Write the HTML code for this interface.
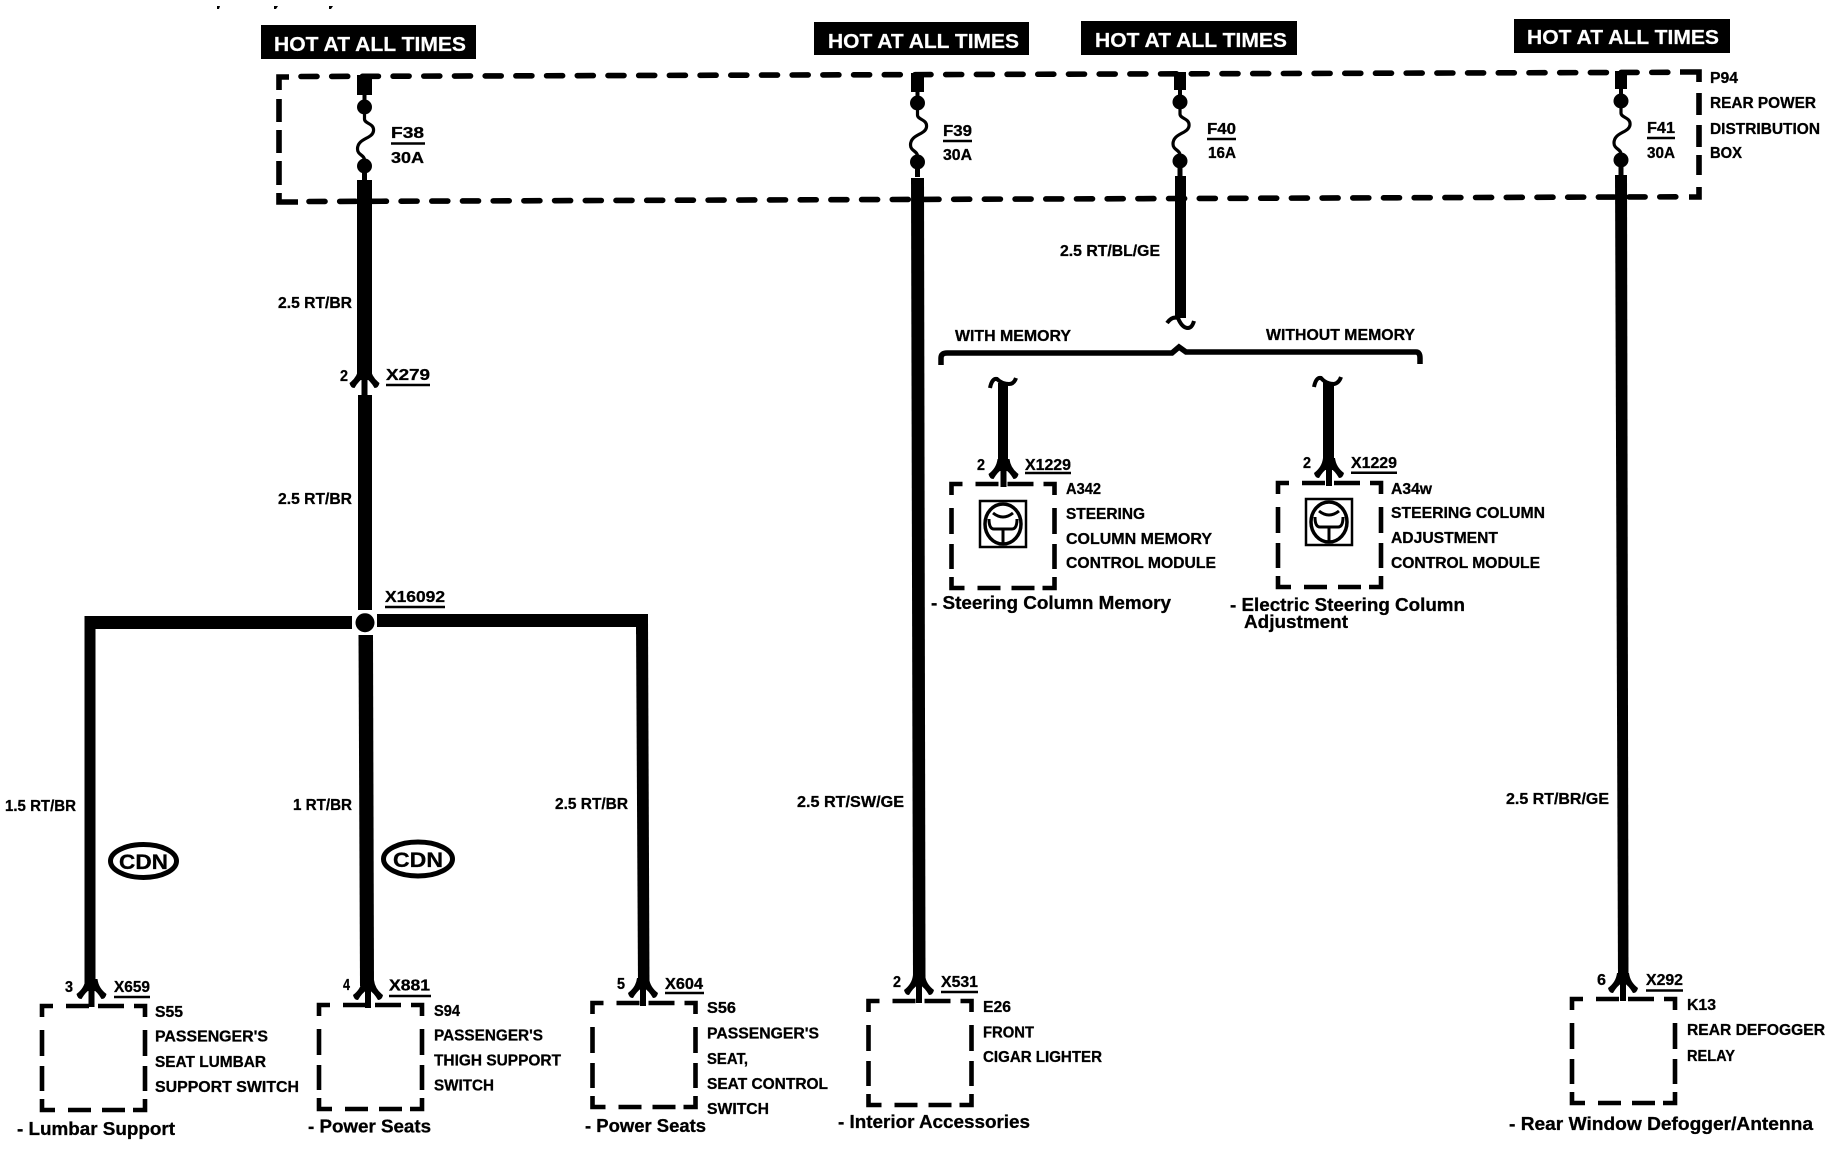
<!DOCTYPE html>
<html><head><meta charset="utf-8"><style>
html,body{margin:0;padding:0;background:#fff}
svg{display:block}
text{font-family:"Liberation Sans",sans-serif;font-weight:bold;fill:#000;font-size:16px;stroke:#000;stroke-width:.3px}
.h{fill:#fff;stroke:#fff;stroke-width:.2px;font-size:20px}
.d{font-size:18px}
</style></head><body>
<svg width="1830" height="1152" viewBox="0 0 1830 1152" xmlns="http://www.w3.org/2000/svg">
<defs>
<g id="fuse"><path d="M0,0V12C0,17 10,16 9,24C8,32 -7,31 -7,42C-7,48 0,48 0,53V59" fill="none" stroke="#000" stroke-width="3.2"/><circle cx="0" cy="0" r="7.5"/><circle cx="0" cy="59" r="7.5"/><rect x="-2" y="-14" width="4" height="10"/><rect x="-2.5" y="62" width="5" height="12"/></g>
<path id="box" fill="none" stroke="#000" stroke-width="4.6" d="M0,11V0H11M24,0H47M56,0H82M92,0H103V11M0,24V50M0,60V85M0,93V104H13M103,24V50M103,60V85M103,93V104H91M26,104H49M60,104H83"/>
<g id="con"><path d="M-6,-10Q-7,-1 -15,5Q-14,10 -10,10Q-6,3 0,-1Q6,3 10,10Q14,10 15,5Q7,-1 6,-10Z"/><rect x="-3" y="-2" width="6" height="20"/></g>
<g id="wheel" fill="none" stroke="#000"><rect x="0" y="0" width="46" height="46" stroke-width="2.5"/><ellipse cx="23" cy="23" rx="18" ry="20" stroke-width="3.5"/><path d="M9,18Q9,28 14,28H32Q37,28 37,18M23,28V43M13,12Q23,20 33,12" stroke-width="3"/></g>
</defs>

<!-- small marks -->
<path d="M217,6h3l-1,3h-2zM274,6h4l-2,3h-2zM329,6h4l-2,3h-2z"/>

<!-- header boxes -->
<rect x="261" y="25" width="215" height="34"/>
<rect x="814" y="22" width="215" height="33"/>
<rect x="1081" y="21" width="216" height="34"/>
<rect x="1514" y="19" width="216" height="34"/>
<text class="h" x="274" y="51" textLength="192" lengthAdjust="spacingAndGlyphs">HOT AT ALL TIMES</text>
<text class="h" x="828" y="48" textLength="191" lengthAdjust="spacingAndGlyphs">HOT AT ALL TIMES</text>
<text class="h" x="1095" y="47" textLength="192" lengthAdjust="spacingAndGlyphs">HOT AT ALL TIMES</text>
<text class="h" x="1527" y="44" textLength="192" lengthAdjust="spacingAndGlyphs">HOT AT ALL TIMES</text>

<!-- dashed distribution box -->
<g fill="none" stroke="#000" stroke-width="5.6">
<path d="M301,76.5L1680,72.3" stroke-linecap="round" stroke-dasharray="16 14.7"/>
<path d="M309,201.5L1680,196.8" stroke-linecap="round" stroke-dasharray="16 14.7"/>
<path d="M279,90V77H289M279,99V122M279,130V153M279,161V185M279,193V202H298"/>
<path d="M1680,72H1699V82M1699,93V115M1699,125V147M1699,155V175M1699,187V197H1689"/>
</g>

<!-- fuses -->
<rect x="357" y="75" width="15" height="20"/><use href="#fuse" x="364.5" y="107"/>
<rect x="911" y="73" width="13" height="19"/><use href="#fuse" x="917.5" y="103"/>
<rect x="1174" y="72" width="12" height="18"/><use href="#fuse" x="1180" y="102"/>
<rect x="1615" y="71" width="12" height="18"/><use href="#fuse" x="1621" y="101"/>

<!-- wires -->
<rect x="357" y="180" width="15" height="200"/>
<use href="#con" x="364.5" y="378"/>
<rect x="358" y="395" width="14" height="215"/>
<circle cx="365" cy="622.7" r="9.5"/>
<rect x="84.5" y="616" width="267.5" height="13"/>
<rect x="377" y="614" width="271" height="13"/>
<rect x="84.5" y="616" width="11" height="375"/>
<polygon points="358.5,635 373,635 374,986 360,986"/>
<rect x="636" y="614" width="12" height="20"/>
<polygon points="636,620 648,620 649.5,985 638,985"/>
<polygon points="911,178 924,178 925.5,982 913,982"/>
<polygon points="1175,176 1186,176 1186,318 1175,318"/>
<polygon points="1615,175 1627,175 1628.5,980 1618,980"/>

<use href="#con" x="91.5" y="989"/>
<use href="#con" x="368" y="990"/>
<use href="#con" x="643" y="988"/>
<use href="#con" x="919" y="985"/>
<use href="#con" x="1623" y="983"/>

<!-- branch -->
<path d="M1167,323Q1172,316 1178,318Q1182,328 1188,328Q1192,328 1194,321" fill="none" stroke="#000" stroke-width="4"/>
<path d="M941,365V358Q941,353 947,353H1172L1179,347L1186,352H1416Q1420,352 1420,358V364" fill="none" stroke="#000" stroke-width="5.5"/>

<rect x="998" y="383" width="10" height="88"/>
<path d="M990,388Q992,378 997,379Q1002,384 1009,384Q1014,384 1016,378" fill="none" stroke="#000" stroke-width="4"/>
<use href="#con" x="1003.5" y="469"/>
<rect x="1323" y="382" width="11" height="88"/>
<path d="M1314,387Q1316,377 1321,378Q1326,384 1334,384Q1339,383 1341,377" fill="none" stroke="#000" stroke-width="4"/>
<use href="#con" x="1329" y="468"/>

<!-- component boxes -->
<use href="#box" x="42" y="1006"/>
<use href="#box" x="319" y="1005"/>
<use href="#box" x="592.5" y="1003"/>
<use href="#box" x="868.5" y="1001"/>
<use href="#box" x="1572" y="999"/>
<use href="#box" x="951.5" y="484"/>
<use href="#box" x="1278" y="483"/>
<use href="#wheel" x="980" y="501"/>
<use href="#wheel" x="1306" y="499"/>

<!-- CDN -->
<ellipse cx="143.5" cy="861" rx="33" ry="16.5" fill="none" stroke="#000" stroke-width="5"/>
<ellipse cx="418" cy="859" rx="34.5" ry="17" fill="none" stroke="#000" stroke-width="5"/>
<text x="119" y="869" style="font-size:21px" textLength="49" lengthAdjust="spacingAndGlyphs">CDN</text>
<text x="393" y="867" style="font-size:21px" textLength="50" lengthAdjust="spacingAndGlyphs">CDN</text>

<!-- underlines -->
<g stroke="#000" stroke-width="2.5">
<path d="M391,143.5H425M943,141H972M1207,139H1236M1647,138H1675M386,385H430M385,607H445M114,997H150M389,996H431M665,993H704M941,992H978M1646,990.5H1683M1025,473H1071M1351,472.7H1397"/>
</g>

<!-- fuse labels -->
<text x="391" y="138" textLength="33" lengthAdjust="spacingAndGlyphs">F38</text>
<text x="391" y="163" textLength="33" lengthAdjust="spacingAndGlyphs">30A</text>
<text x="943" y="136" textLength="29" lengthAdjust="spacingAndGlyphs">F39</text>
<text x="943" y="160" textLength="29" lengthAdjust="spacingAndGlyphs">30A</text>
<text x="1207" y="134" textLength="29" lengthAdjust="spacingAndGlyphs">F40</text>
<text x="1208" y="158" textLength="28" lengthAdjust="spacingAndGlyphs">16A</text>
<text x="1647" y="133" textLength="28" lengthAdjust="spacingAndGlyphs">F41</text>
<text x="1647" y="158" textLength="28" lengthAdjust="spacingAndGlyphs">30A</text>

<!-- P94 -->
<text x="1710" y="83" textLength="28" lengthAdjust="spacingAndGlyphs">P94</text>
<text x="1710" y="108" textLength="106" lengthAdjust="spacingAndGlyphs">REAR POWER</text>
<text x="1710" y="134" textLength="110" lengthAdjust="spacingAndGlyphs">DISTRIBUTION</text>
<text x="1710" y="158" textLength="32" lengthAdjust="spacingAndGlyphs">BOX</text>

<!-- wire labels -->
<text x="278" y="308" textLength="74" lengthAdjust="spacingAndGlyphs">2.5 RT/BR</text>
<text x="278" y="504" textLength="74" lengthAdjust="spacingAndGlyphs">2.5 RT/BR</text>
<text x="1060" y="256" textLength="100" lengthAdjust="spacingAndGlyphs">2.5 RT/BL/GE</text>
<text x="5" y="811" textLength="71" lengthAdjust="spacingAndGlyphs">1.5 RT/BR</text>
<text x="293" y="810" textLength="59" lengthAdjust="spacingAndGlyphs">1 RT/BR</text>
<text x="555" y="809" textLength="73" lengthAdjust="spacingAndGlyphs">2.5 RT/BR</text>
<text x="797" y="807" textLength="107" lengthAdjust="spacingAndGlyphs">2.5 RT/SW/GE</text>
<text x="1506" y="804" textLength="103" lengthAdjust="spacingAndGlyphs">2.5 RT/BR/GE</text>

<text x="955" y="341" textLength="116" lengthAdjust="spacingAndGlyphs">WITH MEMORY</text>
<text x="1266" y="340" textLength="149" lengthAdjust="spacingAndGlyphs">WITHOUT MEMORY</text>

<!-- connector labels -->
<text x="340" y="381" textLength="8" lengthAdjust="spacingAndGlyphs">2</text>
<text x="386" y="380" textLength="44" lengthAdjust="spacingAndGlyphs">X279</text>
<text x="385" y="602" textLength="60" lengthAdjust="spacingAndGlyphs">X16092</text>
<text x="65" y="992" textLength="8" lengthAdjust="spacingAndGlyphs">3</text>
<text x="114" y="992" textLength="36" lengthAdjust="spacingAndGlyphs">X659</text>
<text x="343" y="990" textLength="7" lengthAdjust="spacingAndGlyphs">4</text>
<text x="389" y="990.5" textLength="41" lengthAdjust="spacingAndGlyphs">X881</text>
<text x="617" y="989" textLength="8" lengthAdjust="spacingAndGlyphs">5</text>
<text x="665" y="989" textLength="38" lengthAdjust="spacingAndGlyphs">X604</text>
<text x="893" y="987" textLength="8" lengthAdjust="spacingAndGlyphs">2</text>
<text x="941" y="987" textLength="37" lengthAdjust="spacingAndGlyphs">X531</text>
<text x="1597" y="985" textLength="9" lengthAdjust="spacingAndGlyphs">6</text>
<text x="1646" y="985" textLength="37" lengthAdjust="spacingAndGlyphs">X292</text>
<text x="977" y="470" textLength="8" lengthAdjust="spacingAndGlyphs">2</text>
<text x="1025" y="470" textLength="46" lengthAdjust="spacingAndGlyphs">X1229</text>
<text x="1303" y="468" textLength="8" lengthAdjust="spacingAndGlyphs">2</text>
<text x="1351" y="468" textLength="46" lengthAdjust="spacingAndGlyphs">X1229</text>

<!-- component text -->
<text x="155" y="1017" textLength="28" lengthAdjust="spacingAndGlyphs">S55</text>
<text x="155" y="1041.5" textLength="113" lengthAdjust="spacingAndGlyphs">PASSENGER'S</text>
<text x="155" y="1067" textLength="111" lengthAdjust="spacingAndGlyphs">SEAT LUMBAR</text>
<text x="155" y="1092" textLength="144" lengthAdjust="spacingAndGlyphs">SUPPORT SWITCH</text>

<text x="434" y="1016" textLength="26" lengthAdjust="spacingAndGlyphs">S94</text>
<text x="434" y="1040.5" textLength="109" lengthAdjust="spacingAndGlyphs">PASSENGER'S</text>
<text x="434" y="1065.5" textLength="127" lengthAdjust="spacingAndGlyphs">THIGH SUPPORT</text>
<text x="434" y="1090.5" textLength="60" lengthAdjust="spacingAndGlyphs">SWITCH</text>

<text x="707" y="1013" textLength="29" lengthAdjust="spacingAndGlyphs">S56</text>
<text x="707" y="1038.5" textLength="112" lengthAdjust="spacingAndGlyphs">PASSENGER'S</text>
<text x="707" y="1064" textLength="41" lengthAdjust="spacingAndGlyphs">SEAT,</text>
<text x="707" y="1089" textLength="121" lengthAdjust="spacingAndGlyphs">SEAT CONTROL</text>
<text x="707" y="1114" textLength="62" lengthAdjust="spacingAndGlyphs">SWITCH</text>

<text x="983" y="1012" textLength="28" lengthAdjust="spacingAndGlyphs">E26</text>
<text x="983" y="1037.5" textLength="51" lengthAdjust="spacingAndGlyphs">FRONT</text>
<text x="983" y="1062" textLength="119" lengthAdjust="spacingAndGlyphs">CIGAR LIGHTER</text>

<text x="1687" y="1010" textLength="29" lengthAdjust="spacingAndGlyphs">K13</text>
<text x="1687" y="1035" textLength="138" lengthAdjust="spacingAndGlyphs">REAR DEFOGGER</text>
<text x="1687" y="1061" textLength="48" lengthAdjust="spacingAndGlyphs">RELAY</text>

<text x="1066" y="494" textLength="35" lengthAdjust="spacingAndGlyphs">A342</text>
<text x="1066" y="519" textLength="79" lengthAdjust="spacingAndGlyphs">STEERING</text>
<text x="1066" y="544" textLength="146" lengthAdjust="spacingAndGlyphs">COLUMN MEMORY</text>
<text x="1066" y="568" textLength="150" lengthAdjust="spacingAndGlyphs">CONTROL MODULE</text>

<text x="1391" y="494" textLength="41" lengthAdjust="spacingAndGlyphs">A34w</text>
<text x="1391" y="518" textLength="154" lengthAdjust="spacingAndGlyphs">STEERING COLUMN</text>
<text x="1391" y="543" textLength="107" lengthAdjust="spacingAndGlyphs">ADJUSTMENT</text>
<text x="1391" y="568" textLength="149" lengthAdjust="spacingAndGlyphs">CONTROL MODULE</text>

<!-- system labels -->
<text class="d" x="17" y="1135" textLength="158" lengthAdjust="spacingAndGlyphs">- Lumbar Support</text>
<text class="d" x="308" y="1132.5" textLength="123" lengthAdjust="spacingAndGlyphs">- Power Seats</text>
<text class="d" x="585" y="1132" textLength="121" lengthAdjust="spacingAndGlyphs">- Power Seats</text>
<text class="d" x="838" y="1128" textLength="192" lengthAdjust="spacingAndGlyphs">- Interior Accessories</text>
<text class="d" x="1509" y="1130" textLength="304" lengthAdjust="spacingAndGlyphs">- Rear Window Defogger/Antenna</text>
<text class="d" x="931" y="609" textLength="240" lengthAdjust="spacingAndGlyphs">- Steering Column Memory</text>
<text class="d" x="1230" y="611" textLength="235" lengthAdjust="spacingAndGlyphs">- Electric Steering Column</text>
<text class="d" x="1244" y="628" textLength="104" lengthAdjust="spacingAndGlyphs">Adjustment</text>
</svg>
</body></html>
